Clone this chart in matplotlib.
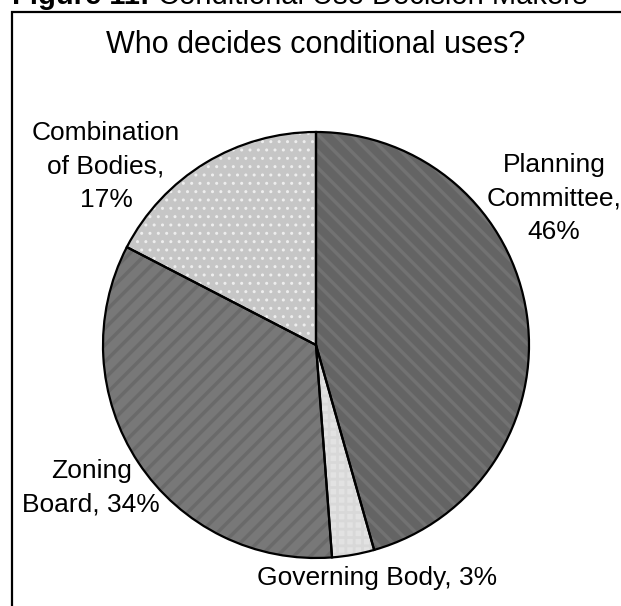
import matplotlib
matplotlib.use('Agg')
import matplotlib.pyplot as plt
from matplotlib.patches import Rectangle

plt.rcParams['font.family'] = ['Liberation Sans', 'DejaVu Sans']

# data
categories = ['Planning Committee', 'Governing Body', 'Zoning Board', 'Combination of Bodies']
shares = [45.6, 3.2, 33.8, 17.4]
label_texts = ['Planning\nCommittee,\n46%', 'Governing Body, 3%', 'Zoning\nBoard, 34%', 'Combination\nof Bodies,\n17%']

# styles
base_colors = ['#646464', '#e2e2e2', '#787878', '#c6c6c6']
hatch_colors = ['#727272', '#d8d8d8', '#6a6a6a', '#eeeeee']
hatches = ['\\\\', '++', '//', '..']
hatch_lw = [2.5, 2.0, 2.5, 1.0]
# label positions in pie data units (radius 1)
label_pos = [(1.117, 0.69), (0.286, -1.094), (-1.056, -0.671), (-0.986, 0.84)]

fig = plt.figure(figsize=(6.21, 6.06), dpi=100)

# chart frame (runs off the right and bottom of the image)
fig.patches.append(Rectangle((12 / 621, -0.2), 1.2, 1.2 - 12 / 606, transform=fig.transFigure,
                             fill=False, edgecolor='black', linewidth=1.6, clip_on=False))

# figure caption at the top, mostly cut off
r = fig.canvas.get_renderer()
t1 = fig.text(12 / 621, 1 - 4 / 606, 'Figure 11:', fontsize=21, fontweight='bold', va='baseline', ha='left')
bb = t1.get_window_extent(renderer=r)
fig.text(bb.x1 / fig.bbox.width, 1 - 4 / 606, ' Conditional Use Decision Makers', fontsize=21,
         va='baseline', ha='left')

fig.text(316 / 621, 1 - 45 / 606, 'Who decides conditional uses?', fontsize=22, ha='center', va='center')

ax = fig.add_axes([(316 - 213) / 621, (606 - 345 - 213) / 606, 426 / 621, 426 / 606])
plt.rcParams['hatch.linewidth'] = 2.5
wedges, _ = ax.pie(shares, colors=base_colors, startangle=90, counterclock=False,
                   wedgeprops=dict(linewidth=0))
for w, h, hc, lw in zip(wedges, hatches, hatch_colors, hatch_lw):
    w.set_hatch(h)
    w.set_edgecolor(hc)
    if hasattr(w, 'set_hatch_linewidth'):
        w.set_hatch_linewidth(lw)
# black outlines on top
ax.pie(shares, colors=['none'] * len(shares), startangle=90, counterclock=False,
       wedgeprops=dict(linewidth=1.6, edgecolor='black'))
ax.set_xlim(-1, 1)
ax.set_ylim(-1, 1)

for txt, (x, y) in zip(label_texts, label_pos):
    ax.text(x, y, txt, fontsize=19, ha='center', va='center', linespacing=1.5, clip_on=False)

fig.savefig('out.png', dpi=100)
